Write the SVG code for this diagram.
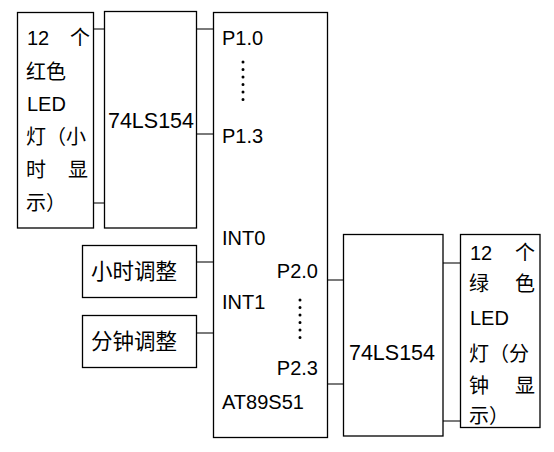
<svg xmlns="http://www.w3.org/2000/svg" width="554" height="452" viewBox="0 0 554 452">
<style>
.b{fill:#fff;stroke:#000;stroke-width:1.3}
.c{stroke:#222;stroke-width:1.2;fill:none}
text{font-family:"Liberation Sans","Noto Sans CJK SC",sans-serif;font-size:20px;fill:#000}
.big{font-size:21.5px}
.d{stroke:#000;stroke-width:3;stroke-linecap:round;stroke-dasharray:0 7.5;fill:none}
</style>
<rect width="554" height="452" fill="#fff"/>
<g id="connectors">
<line class="c" x1="94" y1="29" x2="105" y2="29"/>
<line class="c" x1="94" y1="203" x2="105" y2="203"/>
<line class="c" x1="197" y1="29" x2="213" y2="29"/>
<line class="c" x1="197" y1="134" x2="213" y2="134"/>
<line class="c" x1="197" y1="262" x2="213" y2="262"/>
<line class="c" x1="197" y1="333" x2="213" y2="333"/>
<line class="c" x1="327" y1="280" x2="343" y2="280"/>
<line class="c" x1="327" y1="384" x2="343" y2="384"/>
<line class="c" x1="443" y1="263" x2="460" y2="263"/>
<line class="c" x1="443" y1="421" x2="460" y2="421"/>
</g>
<g id="redled">
<rect class="b" x="17.5" y="12.5" width="76" height="215.5"/>
<text x="27" y="45">12</text><text x="70" y="45">个</text>
<text x="26" y="79">红色</text>
<text x="27" y="111">LED</text>
<text x="26" y="144">灯（小</text>
<text x="26" y="177">时</text><text x="68" y="177">显</text>
<text x="26" y="210">示）</text>
</g>
<g id="dec1">
<rect class="b" x="104.5" y="11.5" width="92" height="216.5"/>
<text class="big" x="151" y="128" text-anchor="middle">74LS154</text>
</g>
<g id="mcu">
<rect class="b" x="213.5" y="12.5" width="114" height="425"/>
<text x="222" y="45">P1.0</text>
<path class="d" d="M243 62V104"/>
<text x="222" y="143">P1.3</text>
<text x="222" y="245">INT0</text>
<text x="318" y="278" text-anchor="end">P2.0</text>
<text x="222" y="309">INT1</text>
<path class="d" d="M300 300V339"/>
<text x="318" y="375" text-anchor="end">P2.3</text>
<text x="222" y="409">AT89S51</text>
</g>
<g id="hour">
<rect class="b" x="82.5" y="245.5" width="114" height="52"/>
<text class="big" x="134" y="279" text-anchor="middle">小时调整</text>
</g>
<g id="minute">
<rect class="b" x="82.5" y="315.5" width="114" height="52"/>
<text class="big" x="134" y="349" text-anchor="middle">分钟调整</text>
</g>
<g id="dec2">
<rect class="b" x="343.5" y="234.5" width="99.5" height="201.5"/>
<text class="big" x="392" y="360" text-anchor="middle">74LS154</text>
</g>
<g id="greenled">
<rect class="b" x="460.5" y="234.5" width="79.5" height="193"/>
<text x="470" y="260">12</text><text x="515" y="260">个</text>
<text x="469" y="291">绿</text><text x="515" y="291">色</text>
<text x="470" y="325">LED</text>
<text x="469" y="361">灯（分</text>
<text x="469" y="393">钟</text><text x="515" y="393">显</text>
<text x="469" y="423">示）</text>
</g>
</svg>
